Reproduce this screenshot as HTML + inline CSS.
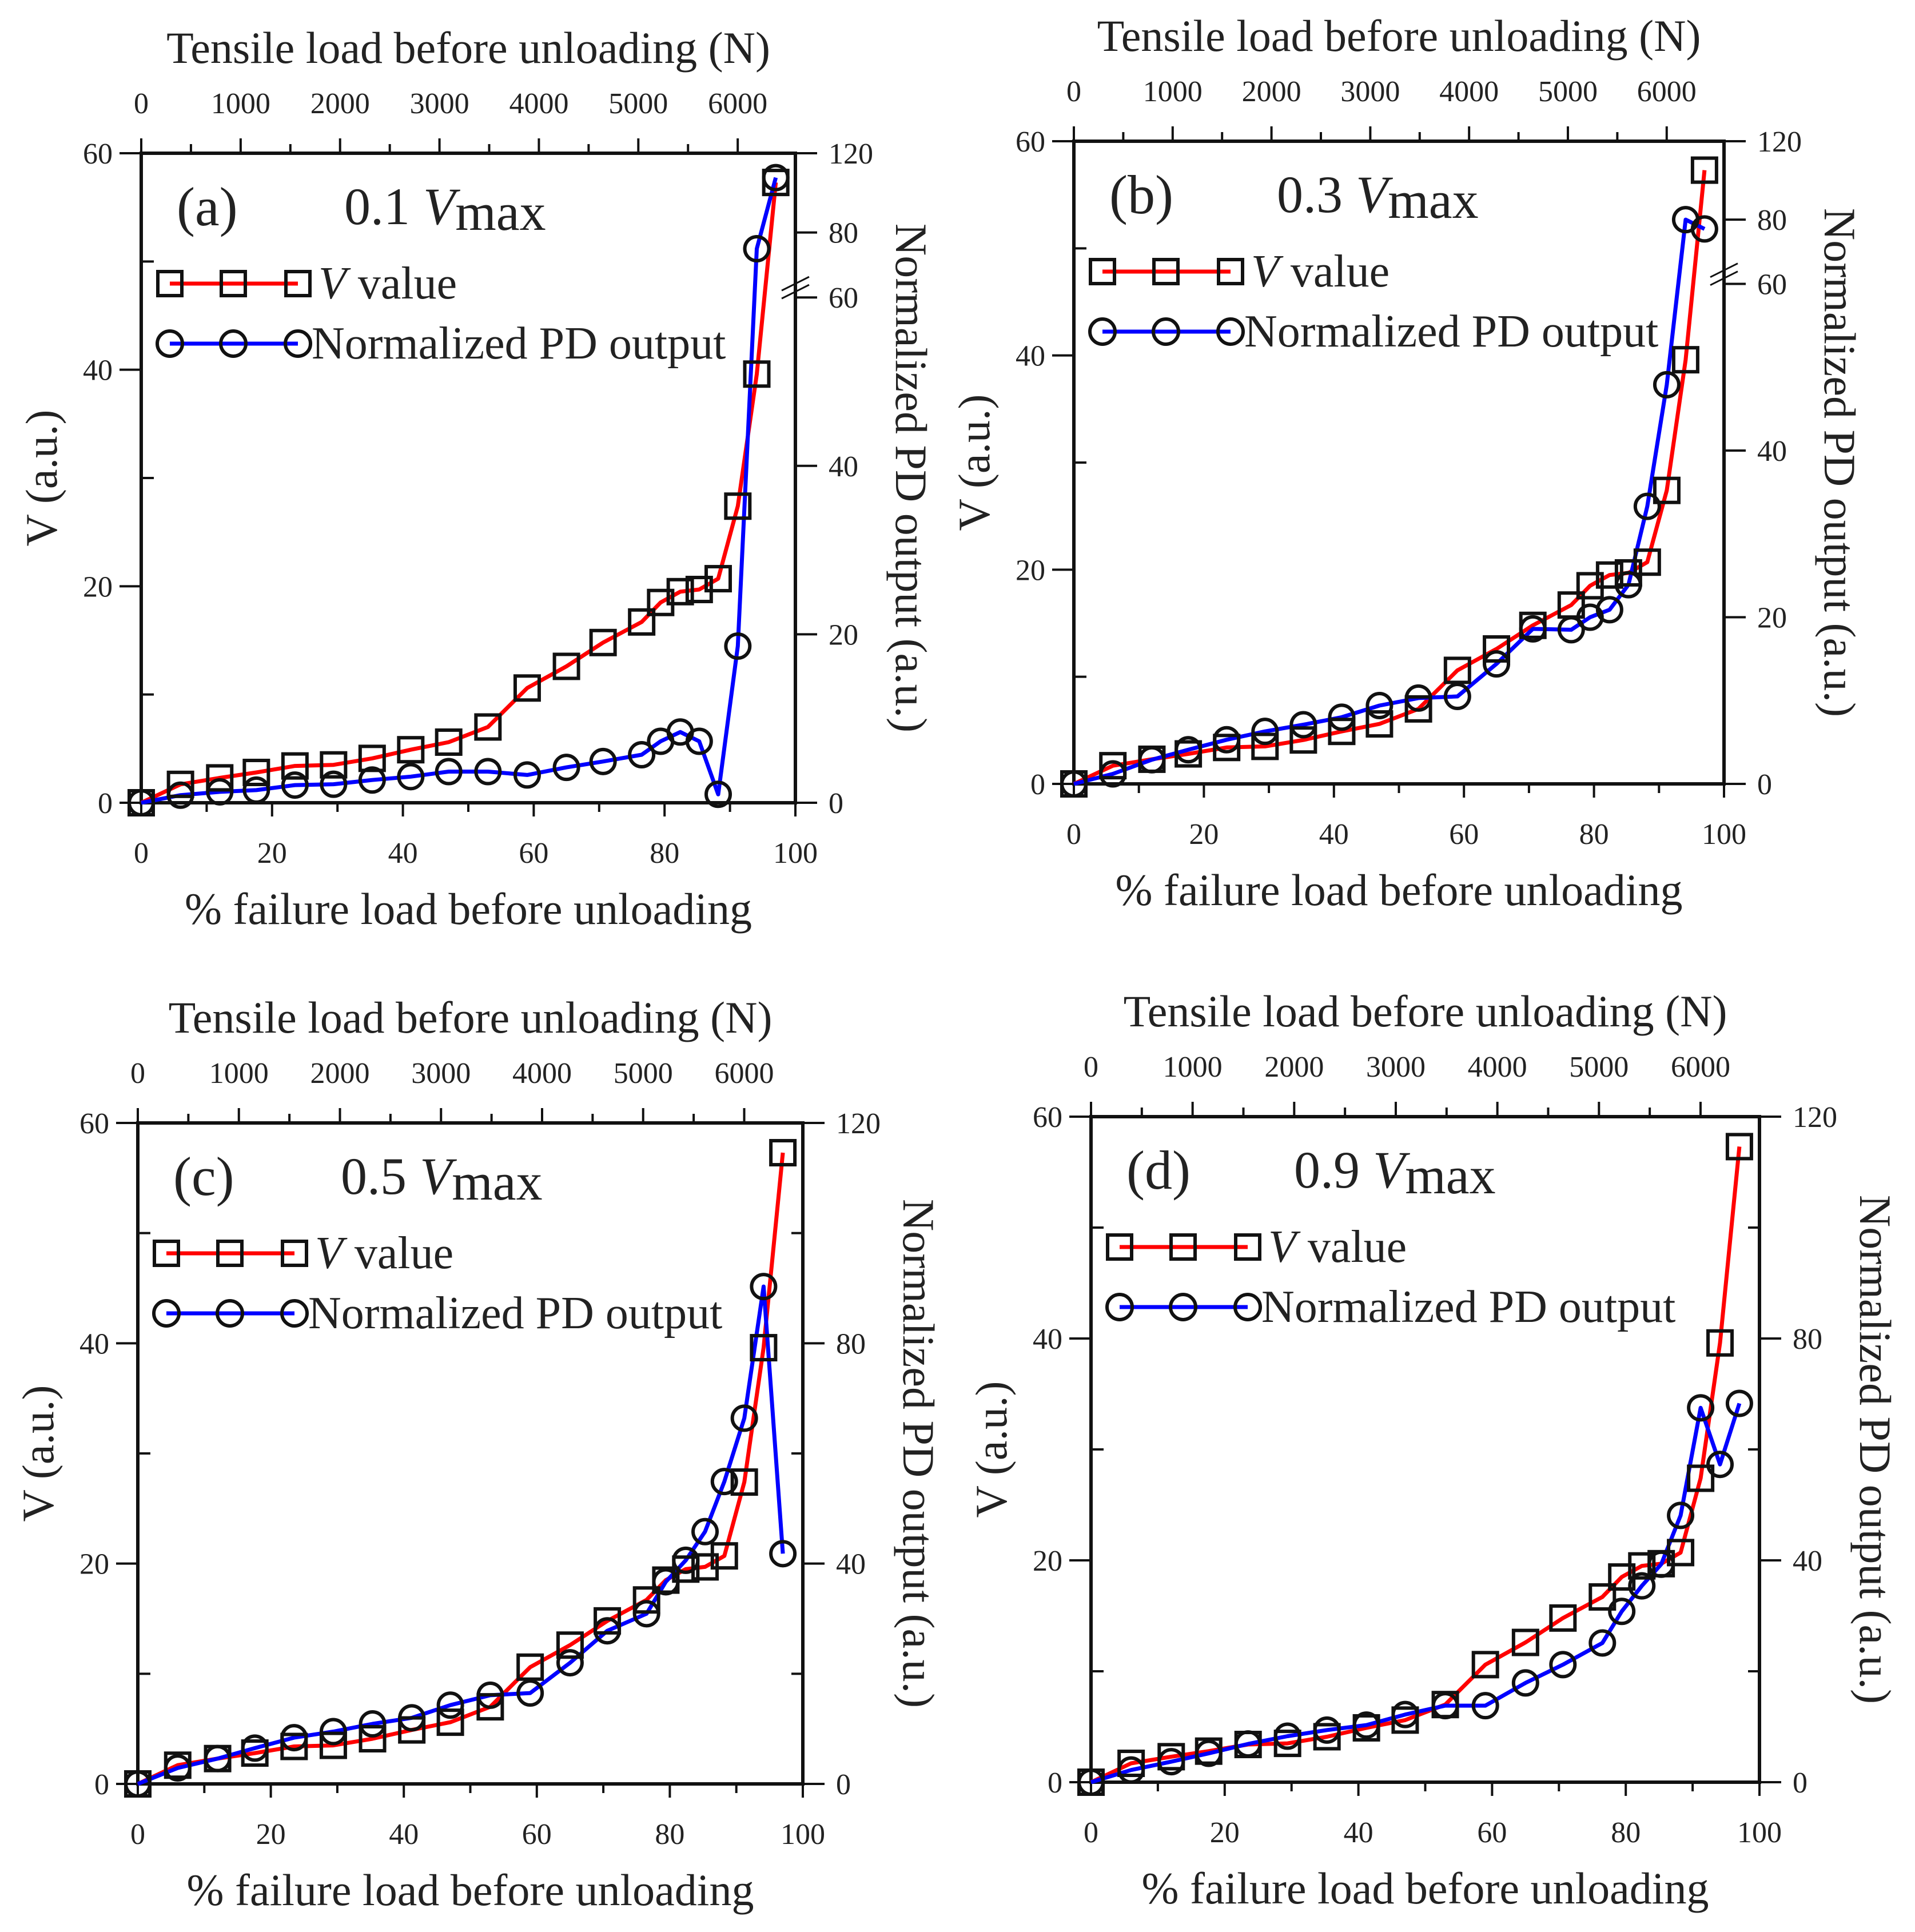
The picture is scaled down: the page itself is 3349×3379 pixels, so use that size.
<!DOCTYPE html>
<html><head><meta charset="utf-8"><style>
html,body{margin:0;padding:0;background:#fff}
svg{display:block}
text{font-family:"Liberation Serif",serif;fill:#222}
</style></head><body>
<svg id="fig" width="3349" height="3379" viewBox="0 0 3349 3379" xmlns="http://www.w3.org/2000/svg"></svg>
<script>
// Shared data
const xPct = [0, 6, 12, 17.6, 23.5, 29.4, 35.3, 41.2, 47, 53, 59, 65, 70.6, 76.5, 79.4, 82.4, 85.3, 88.2, 91.2, 94.1, 97];
const vValues = [0, 1.7, 2.3, 2.8, 3.4, 3.5, 4.1, 4.9, 5.6, 7.0, 10.6, 12.6, 14.8, 16.7, 18.5, 19.5, 19.7, 20.7, 27.4, 39.6, 57.3];
const pdA = [0, 0.9, 1.3, 1.5, 2.1, 2.2, 2.7, 3.1, 3.7, 3.7, 3.3, 4.2, 4.9, 5.7, 7.3, 8.4, 7.3, 1.0, 18.6, 75, 107.7];
const pdB = [0, 1.2, 2.9, 4.1, 5.3, 6.3, 7.1, 8.0, 9.4, 10.3, 10.5, 14.4, 18.6, 18.5, 20, 20.9, 23.9, 33.3, 47.9, 80, 77.1];
const pdC = [0, 2.9, 4.6, 6.5, 8.4, 9.5, 10.9, 12.0, 14.3, 16.1, 16.5, 22, 27.8, 30.9, 36.7, 40.6, 45.8, 54.9, 66.4, 90.3, 41.8];
const pdD = [0, 2.2, 3.7, 5.2, 6.9, 8.3, 9.4, 10.3, 12.2, 13.8, 13.8, 17.9, 21.2, 25.1, 30.8, 35.4, 39.3, 48.1, 67.5, 57.3, 68.3];
const panelLabels = ["(a)", "(b)", "(c)", "(d)"];
const panelLevels = ["0.1", "0.3", "0.5", "0.9"];
const leftTicks = [0, 20, 40, 60];
const bottomTicks = [0, 20, 40, 60, 80, 100];
const topTicks = [0, 1000, 2000, 3000, 4000, 5000, 6000];
const rightTicksBroken = [0, 20, 40, 60, 80, 120];
const rightTicksLinear = [0, 40, 80, 120];
const failureLoadN = 6580;

const NS = "http://www.w3.org/2000/svg";
const svg = document.getElementById("fig");
function mk(tag, attrs, parent, txt) {
  const e = document.createElementNS(NS, tag);
  for (const k in attrs) e.setAttribute(k, attrs[k]);
  if (txt !== undefined) e.textContent = txt;
  (parent || svg).appendChild(e);
  return e;
}

const panels = [
  {L:247, T:268, R:1391, B:1404, pd:pdA, broken:true},
  {L:1878, T:247, R:3015, B:1371, pd:pdB, broken:true},
  {L:241, T:1964, R:1404, B:3120, pd:pdC, broken:false},
  {L:1908, T:1953, R:3077, B:3117, pd:pdD, broken:false}
];

panels.forEach((p, i) => {
  const g = mk("g", {});
  
  
  const W = p.R - p.L, H = p.B - p.T;
  const xs = v => p.L + W * v / 100;
  const xN = n => p.L + W * n / failureLoadN;
  const yV = v => p.B - H * v / 60;
  const brk = [[0,0],[60,0.778],[80,0.878],[120,1]];
  const yP = v => {
    if (!p.broken) return p.B - H * v / 120;
    for (let k = 1; k < brk.length; k++) {
      if (v <= brk[k][0] || k === brk.length - 1) {
        const a = brk[k-1], b = brk[k];
        const f = a[1] + (v - a[0]) / (b[0] - a[0]) * (b[1] - a[1]);
        return p.B - H * f;
      }
    }
  };
  const box = mk("rect", {x:p.L, y:p.T, width:W, height:H, fill:"none", stroke:"#111", "stroke-width":6}, g);
  
  
  for (let v = 0; v <= 60; v += 10) {
    const major = v % 20 === 0;
    mk("line", {x1:p.L - (major ? 38 : 0), x2:p.L + (major ? 0 : 22), y1:yV(v), y2:yV(v), stroke:"#111", "stroke-width":4}, g);
  }
  leftTicks.forEach(v => {
    const t = mk("text", {x:p.L - 50, y:yV(v) + 18, "text-anchor":"end", "font-size":52}, g, String(v));
    
    
  });
  for (let v = 0; v <= 100; v += 10) {
    const major = v % 20 === 0;
    mk("line", {x1:xs(v), x2:xs(v), y1:p.B, y2:p.B + (major ? 24 : 16), stroke:"#111", "stroke-width":4}, g);
  }
  bottomTicks.forEach(v => {
    const t = mk("text", {x:xs(v), y:p.B + 105, "text-anchor":"middle", "font-size":52}, g, String(v));
    
    
  });
  for (let n = 0; n <= 6000; n += 500) {
    const major = n % 1000 === 0;
    mk("line", {x1:xN(n), x2:xN(n), y1:p.T, y2:p.T - (major ? 26 : 16), stroke:"#111", "stroke-width":4}, g);
  }
  topTicks.forEach(n => {
    const t = mk("text", {x:xN(n), y:p.T - 70, "text-anchor":"middle", "font-size":52}, g, String(n));
    
    
  });
  const rt = p.broken ? rightTicksBroken : rightTicksLinear;
  if (!p.broken) {
    for (let v = 20; v < 120; v += 40) mk("line", {x1:p.R - 20, x2:p.R, y1:yP(v), y2:yP(v), stroke:"#111", "stroke-width":4}, g);
  }
  rt.forEach(v => {
    mk("line", {x1:p.R, x2:p.R + 38, y1:yP(v), y2:yP(v), stroke:"#111", "stroke-width":4}, g);
    const t = mk("text", {x:p.R + 58, y:yP(v) + 18, "text-anchor":"start", "font-size":52}, g, String(v));
    
    
  });
  if (p.broken) {
    const yb = yP(63);
    for (let d = -7; d <= 7; d += 14) {
      mk("line", {x1:p.R - 24, x2:p.R + 24, y1:yb + d + 12, y2:yb + d - 12, stroke:"#111", "stroke-width":3}, g);
    }
  }
  const tt = mk("text", {x:(p.L + p.R) / 2, y:p.T - 158, "text-anchor":"middle", "font-size":78}, g, "Tensile load before unloading (N)");
  
  
  const xt = mk("text", {x:(p.L + p.R) / 2, y:p.B + 212, "text-anchor":"middle", "font-size":78}, g, "% failure load before unloading");
  
  
  const cy = (p.T + p.B) / 2;
  const yt = mk("text", {x:0, y:0, "text-anchor":"middle", "font-size":78, transform:`translate(${p.L - 148},${cy}) rotate(-90)`}, g, "V (a.u.)");
  
  
  const ry = mk("text", {x:0, y:0, "text-anchor":"middle", "font-size":78, transform:`translate(${p.R + 176},${cy}) rotate(90)`}, g, "Normalized PD output (a.u.)");
  
  
  const pl = mk("text", {x:p.L + 62, y:p.T + 126, "font-size":96}, g, panelLabels[i]);
  
  
  const lv = mk("text", {x:p.L + 355, y:p.T + 124, "font-size":92}, g);
  
  
  mk("tspan", {}, lv, panelLevels[i] + " ");
  mk("tspan", {"font-style":"italic"}, lv, "V");
  mk("tspan", {dy:10}, lv, "max");
  const lg = mk("g", {}, g);
  
  
  const ly1 = p.T + 228, ly2 = p.T + 333;
  const mx = [p.L + 50, p.L + 161, p.L + 274];
  mk("line", {x1:mx[0], x2:mx[2], y1:ly1, y2:ly1, stroke:"#f00", "stroke-width":7}, lg);
  mx.forEach(x => mk("rect", {x:x - 21, y:ly1 - 21, width:42, height:42, fill:"none", stroke:"#111", "stroke-width":6}, lg));
  const l1 = mk("text", {x:p.L + 310, y:ly1 + 26, "font-size":80}, lg);
  
  
  mk("tspan", {"font-style":"italic"}, l1, "V");
  mk("tspan", {}, l1, " value");
  mk("line", {x1:mx[0], x2:mx[2], y1:ly2, y2:ly2, stroke:"#00f", "stroke-width":7}, lg);
  mx.forEach(x => mk("circle", {cx:x, cy:ly2, r:22, fill:"none", stroke:"#111", "stroke-width":6}, lg));
  const l2 = mk("text", {x:p.L + 298, y:ly2 + 26, "font-size":80}, lg, "Normalized PD output");
  
  
  const redPts = xPct.map((x, k) => xs(x).toFixed(1) + "," + yV(vValues[k]).toFixed(1)).join(" ");
  const bluePts = xPct.map((x, k) => xs(x).toFixed(1) + "," + yP(p.pd[k]).toFixed(1)).join(" ");
  const rl = mk("polyline", {points:redPts, fill:"none", stroke:"#f00", "stroke-width":7, "stroke-linejoin":"round"}, g);
  
  
  const bl = mk("polyline", {points:bluePts, fill:"none", stroke:"#00f", "stroke-width":7, "stroke-linejoin":"round"}, g);
  
  
  xPct.forEach((x, k) => {
    const s = mk("rect", {x:xs(x) - 21, y:yV(vValues[k]) - 21, width:42, height:42, fill:"none", stroke:"#111", "stroke-width":6}, g);
    
    
    const c = mk("circle", {cx:xs(x), cy:yP(p.pd[k]), r:21, fill:"none", stroke:"#111", "stroke-width":6}, g);
    
    
  });
});
</script>
</body></html>
